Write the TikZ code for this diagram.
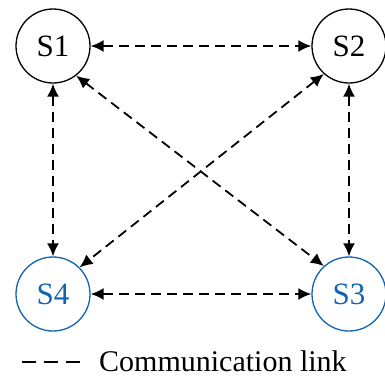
\documentclass[tikz,border=0pt]{standalone}
\usepackage{fontspec}
\setmainfont{Liberation Serif}
\usetikzlibrary{arrows.meta}
\definecolor{sblue}{RGB}{16,100,178}
\begin{document}
\begin{tikzpicture}[x=1pt,y=-1pt,
  station/.style={circle,draw,line width=1.3pt,minimum size=74pt,inner sep=0pt,font=\fontsize{31}{32}\selectfont},
  bluestation/.style={station,draw=sblue,text=sblue},
  link/.style={line width=1.8pt,dash pattern=on 10pt off 6pt,{Latex[length=13pt,width=12pt]}-{Latex[length=13pt,width=12pt]}},
  legline/.style={line width=1.8pt,dash pattern=on 14pt off 8pt}]
\useasboundingbox (0,0) rectangle (385,376);
\node[station] (S1) at (53,46) {S1};
\node[station] (S2) at (349,46) {S2};
\node[bluestation] (S4) at (53,294) {S4};
\node[bluestation] (S3) at (349,294) {S3};
\draw[link] (S1.east) -- (S2.west);
\draw[link] (S4.east) -- (S3.west);
\draw[link] (S1.south) -- (S4.north);
\draw[link] (S2.south) -- (S3.north);
\draw[link] (S1.-52) -- (S3.132);
\draw[link] (S2.-132) -- (S4.45);
\coordinate (l1) at (22,362);
\coordinate (l2) at (82,362);
\draw[legline] (l1) -- (l2);
\node[anchor=base west,inner sep=0pt,font=\fontsize{30}{31}\selectfont] (leg) at (99,371) {Communication link};
\end{tikzpicture}
\end{document}
